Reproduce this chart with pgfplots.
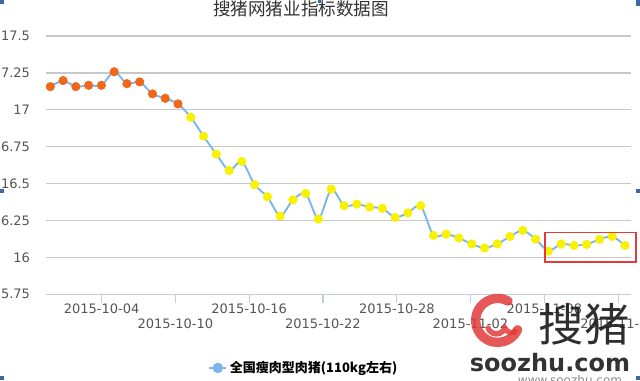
\documentclass[border=0pt]{standalone}
\usepackage{pgfplots}
\pgfplotsset{compat=1.18}
\usepackage{fontspec}
\setmainfont{DejaVu Sans}
\newfontfamily\cjk{Noto Sans CJK SC}
\definecolor{lineblue}{HTML}{7CB5EC}
\definecolor{dotorange}{HTML}{F2661A}
\definecolor{dotyellow}{HTML}{F8F200}
\definecolor{gridc}{HTML}{C8C8C8}
\definecolor{axisc}{HTML}{C0D0E0}
\definecolor{labc}{HTML}{555555}
\definecolor{handle}{HTML}{3D6AA0}
\definecolor{logored}{HTML}{E23B3B}
\pgfplotstableread{
x y
0 17.157
1 17.198
2 17.157
3 17.166
4 17.166
5 17.258
6 17.177
7 17.189
8 17.108
9 17.078
10 17.040
11 16.950
12 16.821
13 16.700
14 16.589
15 16.650
16 16.492
17 16.411
18 16.280
19 16.390
20 16.433
21 16.260
22 16.463
23 16.350
24 16.361
25 16.341
26 16.332
27 16.271
28 16.302
29 16.350
30 16.149
31 16.158
32 16.131
33 16.091
34 16.064
35 16.091
36 16.142
37 16.183
38 16.124
39 16.043
40 16.091
41 16.081
42 16.088
43 16.122
44 16.142
45 16.081
}\pricedata
\begin{document}
\begin{tikzpicture}[x=0.75pt,y=0.75pt]
\path[use as bounding box] (0,0) rectangle (640,380);
\clip (0,0) rectangle (640,380);
\fill[white] (0,0) rectangle (640,380);
\begin{axis}[
  at={(34.5pt,64.275pt)}, anchor=south west,
  scale only axis, width=438.75pt, height=193.725pt,
  xmin=-0.337, xmax=45.47, ymin=15.75, ymax=17.5,
  axis x line*=bottom, axis y line*=left,
  x axis line style={draw=axisc, line width=0.9pt, -},
  y axis line style={draw=none},
  ymajorgrids, major grid style={draw=gridc, line width=0.9pt},
  ytick={15.75,16,16.25,16.5,16.75,17,17.25,17.5},
  yticklabels={5.75,16,6.25,16.5,6.75,17,7.25,17.5},
  ytick style={draw=none},
  xtick={4.02,15.57,27.13,38.68},
  xticklabels={2015-10-04,2015-10-16,2015-10-28,2015-11-08},
  extra x ticks={9.79,21.35,32.9,44.46},
  extra x tick labels={2015-10-10,2015-10-22,2015-11-02,2015-11-14},
  extra x tick style={xticklabel style={yshift=-11.8pt}},
  tick align=outside, major tick length=6.75pt,
  xtick style={draw=axisc, line width=0.9pt},
  ticklabel style={font=\fontsize{9.75}{11}\selectfont, text=labc},
  xticklabel style={yshift=3.4pt},
  yticklabel style={xshift=-1.75pt},
  legend style={at={(0.277,-0.285)}, anchor=west, draw=none, fill=none,
    font=\cjk\bfseries\fontsize{9.75}{11}\selectfont, inner sep=0pt},
  legend image code/.code={
    \draw[lineblue,line width=1.5pt] (0pt,0pt)--(12.75pt,0pt);
    \fill[lineblue] (6.4pt,0pt) circle (3.2pt);},
  clip=false,
]
\addplot[lineblue, line width=1.4pt, smooth, tension=0.45, no marks] table[x=x,y=y] {\pricedata};
\addlegendentry{全国瘦肉型肉猪(110kg左右)}
\addplot[dotorange, only marks, mark=*, mark size=3.2pt, mark options={draw=none, fill=dotorange},
  restrict expr to domain={\coordindex}{0:10}, forget plot] table[x=x,y=y] {\pricedata};
\addplot[dotyellow, only marks, mark=*, mark size=3.2pt, mark options={draw=none, fill=dotyellow},
  restrict expr to domain={\coordindex}{11:45}, forget plot] table[x=x,y=y] {\pricedata};
\end{axis}
% title
\node[font=\cjk\fontsize{13.2}{15}\selectfont, text=black!80] at (301,371) {搜猪网猪业指标数据图};
% highlight box
\draw[logored, line width=0.9pt] (545,147.7) rectangle (636,118);
% watermark
\draw[logored, line width=7, line cap=round, opacity=0.85] (508,79) arc (62:335:22);
\draw[logored, line width=4, line cap=round, opacity=0.85] (488,52) arc (200:340:9) arc (200:300:7);
\node[inner sep=0pt, font=\cjk\fontsize{34}{38}\selectfont, text=black!90, opacity=0.9] at (584,56) {搜猪};
\node[inner sep=0pt, font=\bfseries\fontsize{18}{20}\selectfont, text=black!80] at (550,17) {soozhu.com};
\node[inner sep=0pt, font=\fontsize{9}{10}\selectfont, text=black!45] at (570,0) {www.soozhu.com};
% selection handles
\fill[handle] (0,376) rectangle (4,380);
\fill[handle] (318,377) rectangle (321,380);
\fill[handle] (636,374) rectangle (640,380);
\fill[handle] (0,187) rectangle (4,191);
\fill[handle] (636,187) rectangle (640,191);
\fill[handle] (0,0) rectangle (4,4);
\fill[handle] (636,0) rectangle (640,4);
\end{tikzpicture}
\end{document}
